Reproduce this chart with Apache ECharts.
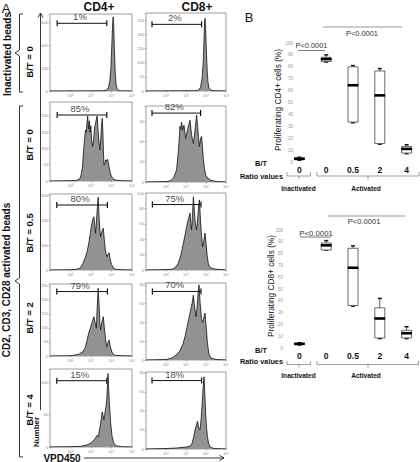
<!DOCTYPE html>
<html><head><meta charset="utf-8">
<script src="https://cdn.jsdelivr.net/npm/echarts@6/dist/echarts.min.js"></script>
<style>html,body{margin:0;padding:0;background:#fff}#c{width:420px;height:462px}</style>
</head><body><div id="c"></div>
<script>
// ---------- Panel A: VPD450 histograms (x = log10 fluorescence, y = count) ----------
const cd4Inact = [[1.0,0],[2.0,0.5],[3.0,1],[3.6,2],[3.75,6],[3.85,30],[3.92,90],[3.97,200],[4.01,380],[4.05,560],[4.08,645],[4.11,560],[4.14,360],[4.18,170],[4.22,60],[4.27,18],[4.35,4],[4.5,1],[5.0,0]];
const cd8Inact = [[1.0,0],[2.5,0.5],[3.5,1],[3.62,3],[3.72,12],[3.8,40],[3.86,100],[3.9,180],[3.93,240],[3.95,256],[3.98,220],[4.02,140],[4.06,70],[4.1,30],[4.15,10],[4.25,3],[4.4,1],[5.0,0]];
const cd4Bt0 = [[1.0,0],[2.0,1],[2.3,2],[2.45,6],[2.52,20],[2.58,40],[2.64,96],[2.69,130],[2.73,157],[2.77,150],[2.81,183],[2.84,200],[2.88,160],[2.92,185],[2.95,150],[2.99,170],[3.03,125],[3.08,106],[3.13,130],[3.18,165],[3.22,176],[3.26,190],[3.3,200],[3.34,160],[3.38,126],[3.43,96],[3.47,120],[3.51,170],[3.55,193],[3.58,150],[3.61,80],[3.64,49],[3.68,55],[3.72,65],[3.76,60],[3.8,67],[3.84,58],[3.88,44],[3.95,22],[4.05,8],[4.2,3],[4.5,1],[5.0,0]];
const cd8Bt0 = [[1.0,0],[2.0,0.5],[2.2,1],[2.37,3.6],[2.53,12],[2.62,31],[2.7,55],[2.74,52],[2.78,59],[2.83,51],[2.9,56],[2.98,43],[3.07,51],[3.13,56],[3.2,61],[3.28,46],[3.37,38],[3.45,51],[3.5,60],[3.53,66],[3.58,55],[3.62,45],[3.67,35],[3.73,43],[3.78,45],[3.87,22],[3.93,12],[4.0,6],[4.2,2],[4.5,0.5],[5.0,0]];
const cd4Bt05 = [[1.0,0],[2.0,1],[2.3,3],[2.48,8],[2.6,25],[2.72,50],[2.81,73],[2.9,110],[2.97,150],[3.03,180],[3.08,200],[3.14,213],[3.18,180],[3.22,147],[3.27,200],[3.31,250],[3.35,291],[3.39,220],[3.43,160],[3.47,133],[3.51,150],[3.56,160],[3.6,167],[3.65,120],[3.7,80],[3.77,53],[3.82,60],[3.88,69],[3.93,45],[4.0,22],[4.1,8],[4.2,3],[4.5,1],[5.0,0]];
const cd8Bt05 = [[1.0,0],[2.0,0.5],[2.3,1],[2.45,3],[2.6,8],[2.75,20],[2.87,35],[2.95,45],[3.02,55],[3.08,62],[3.14,68],[3.2,74],[3.24,60],[3.28,52],[3.33,75],[3.37,95],[3.41,80],[3.46,62],[3.53,52],[3.58,65],[3.63,82],[3.67,91],[3.71,72],[3.76,50],[3.83,30],[3.89,38],[3.95,48],[4.0,35],[4.06,18],[4.12,8],[4.2,3],[4.5,1],[5.0,0]];
const cd4Bt2 = [[1.0,0],[2.0,1],[2.15,3],[2.4,6],[2.6,15],[2.72,30],[2.81,57],[2.9,85],[2.97,100],[3.03,115],[3.09,128],[3.14,140],[3.2,120],[3.26,99],[3.3,170],[3.35,242],[3.39,190],[3.43,120],[3.47,93],[3.52,115],[3.56,130],[3.6,140],[3.65,100],[3.71,60],[3.77,33],[3.82,45],[3.88,57],[3.94,35],[4.02,14],[4.1,6],[4.2,2],[4.5,1],[5.0,0]];
const cd8Bt2 = [[1.0,0],[2.0,0.5],[2.28,2],[2.5,5],[2.7,10],[2.85,17],[2.95,25],[3.05,35],[3.15,45],[3.22,52],[3.3,60],[3.37,69],[3.42,58],[3.5,46],[3.55,55],[3.6,70],[3.65,80],[3.7,62],[3.78,43],[3.84,40],[3.9,46],[3.95,50],[4.0,38],[4.07,18],[4.15,6],[4.25,2],[4.5,0.5],[5.0,0]];
const cd4Bt4 = [[1.0,0],[2.0,0.5],[2.48,1],[2.8,3],[2.98,6],[3.1,9],[3.2,13],[3.3,18],[3.36,16],[3.42,28],[3.47,36],[3.51,46],[3.55,54],[3.59,48],[3.63,42],[3.68,52],[3.73,62],[3.77,72],[3.8,95],[3.83,113],[3.86,90],[3.9,65],[3.96,37],[4.02,18],[4.1,7],[4.2,2],[4.5,0.5],[5.0,0]];
const cd8Bt4 = [[1.0,0],[2.0,0.5],[2.5,1],[3.0,2],[3.2,3],[3.3,6],[3.38,12],[3.45,20],[3.52,25],[3.58,29],[3.62,24],[3.66,21],[3.7,20],[3.75,30],[3.8,45],[3.85,62],[3.9,76],[3.94,58],[3.98,38],[4.03,22],[4.07,13],[4.13,6],[4.2,2],[4.4,0.5],[5.0,0]];

// gates (start, end in log10 units) and gate heights (counts), percentage labels
const gateRanges = [[1.35,3.77],[1.3,3.78],[1.35,3.77],[1.3,3.73],[1.33,3.8],[1.32,3.75],[1.33,3.8],[1.32,3.75],[1.33,3.77],[1.3,3.78]];
const gateHeights = [589,235,203,68,260,85,230,73,102,72];
const pctLabels = ['1%','2%','85%','82%','80%','75%','79%','70%','15%','18%'];
const histMax = [670,275,243,75,304,100,257,82,120,81];
const histInterval = [200,50,50,20,100,20,50,20,50,20];
const decadeLabels = ['10¹','10²','10³','10⁴','10⁵'];
const histograms = [cd4Inact,cd8Inact,cd4Bt0,cd8Bt0,cd4Bt05,cd8Bt05,cd4Bt2,cd8Bt2,cd4Bt4,cd8Bt4];

// ---------- Panel B: box plots ----------
const ratioCats = ['0','0','0.5','2','4'];
const cd4Box = [[1.5,2,2.7,3.5,4],[84,84.5,86.5,88,90],[33,33.5,64.5,80,81],[15,15.5,56,76.5,78.5],[7,7.5,11,13,14.5]];
const cd8Box = [[2.5,3,3.5,4,4.5],[83,83,87,89,91],[35.5,36,68,84.5,86.5],[8,8.5,25,34,42],[8,8.5,12.5,15,18]];
const boxTitles = ['Proliferating CD4+ cells (%)','Proliferating CD8+ cells (%)'];
const groupLabels = ['Inactivated','Activated'];
const pLabel = 'P<0.0001';

const FONT = "'Liberation Sans', Arial, Helvetica, sans-serif";
const chart = echarts.init(document.getElementById('c'), null, {renderer:'svg', width:420, height:462});

// layout of histogram panels (pixels)
const colLeft = [50,146], colWidth = [82,80];
const rowBoxes = [[[14,77],[13,78]],[[102,79],[106,76]],[[194,76],[193,77]],[[284,72],[283,77]],[[369,78],[372,77]]];

const grids = [], xAxes = [], yAxes = [], series = [];
histograms.forEach((d,i)=>{
  const r = Math.floor(i/2), c = i%2;
  const [top,h] = rowBoxes[r][c];
  grids.push({left:colLeft[c], top:top, width:colWidth[c], height:h, show:true, borderColor:'#777', borderWidth:0.7, containLabel:false});
  xAxes.push({gridIndex:i, type:'value', min:1, max:5, interval:1,
    axisLine:{show:false}, splitLine:{show:false},
    axisTick:{show:true, length:1.5, lineStyle:{color:'#777', width:0.5}},
    axisLabel:{fontSize:4, color:'#888', margin:2, fontFamily:FONT, formatter:v=> v>=2 ? decadeLabels[v-1] : ''}});
  const iv = histInterval[i];
  yAxes.push({gridIndex:i, type:'value', min:0, max:histMax[i], interval:iv,
    axisLine:{show:false}, splitLine:{show:false},
    axisTick:{show:true, length:1.5, lineStyle:{color:'#777', width:0.5}},
    axisLabel:{fontSize:4, color:'#888', margin:2, fontFamily:FONT, formatter:v=> (v%iv===0) ? String(v) : ''}});
  series.push({type:'line', xAxisIndex:i, yAxisIndex:i, data:d, symbol:'none', silent:true,
    lineStyle:{color:'#111', width:0.8}, areaStyle:{color:'#929292', opacity:1}, z:2});
  const g = gateRanges[i], gy = gateHeights[i];
  series.push({type:'line', xAxisIndex:i, yAxisIndex:i, data:[[g[0],gy],[g[1],gy]], symbol:'rect', symbolSize:[1.2,6], silent:true,
    itemStyle:{color:'#111'}, lineStyle:{color:'#111', width:1}, z:3});
  series.push({type:'scatter', xAxisIndex:i, yAxisIndex:i, data:[[(g[0]+g[1])/2, gy]], symbolSize:0, silent:true,
    label:{show:true, position:'top', distance:1.5, offset:[-2,0], formatter:pctLabels[i], fontSize:9.5, color:'#111', fontFamily:FONT}, z:4});
});

// box plot grids
const boxGrids = [{top:43, height:119},{top:230, height:118}];
const boxLabelMargin = [-7, 3];
[cd4Box, cd8Box].forEach((bd,k)=>{
  const gi = grids.length;
  grids.push({left:286, width:134, top:boxGrids[k].top, height:boxGrids[k].height, show:false});
  xAxes.push({gridIndex:gi, type:'category', data:ratioCats, axisLine:{show:false}, axisTick:{show:false}, splitLine:{show:false},
    axisLabel:{fontSize:8.5, fontWeight:'bold', color:'#111', margin:3, fontFamily:FONT}});
  yAxes.push({gridIndex:gi, type:'value', min:0, max:100, interval:10, axisLine:{show:false}, axisTick:{show:false}, splitLine:{show:false},
    axisLabel:{fontSize:4.5, color:'#999', margin:boxLabelMargin[k], fontFamily:FONT}});
  series.push({type:'custom', xAxisIndex:gi, yAxisIndex:gi, silent:true,
    data: bd.map((b,j)=>[j].concat(b)),
    encode:{x:0, y:[1,2,3,4,5]},
    renderItem:(params, api)=>{
      const x = api.value(0);
      const lo = api.coord([x, api.value(1)]), q1 = api.coord([x, api.value(2)]), md = api.coord([x, api.value(3)]),
            q3 = api.coord([x, api.value(4)]), hi = api.coord([x, api.value(5)]);
      const cx = lo[0], w = 10;
      const st = {stroke:'#333', lineWidth:0.8};
      return {type:'group', children:[
        {type:'line', shape:{x1:cx,y1:hi[1],x2:cx,y2:q3[1]}, style:st},
        {type:'line', shape:{x1:cx,y1:q1[1],x2:cx,y2:lo[1]}, style:st},
        {type:'line', shape:{x1:cx-2,y1:hi[1],x2:cx+2,y2:hi[1]}, style:{stroke:'#111', lineWidth:1.5}},
        {type:'line', shape:{x1:cx-2,y1:lo[1],x2:cx+2,y2:lo[1]}, style:{stroke:'#111', lineWidth:1.5}},
        {type:'rect', shape:{x:cx-w/2, y:q3[1], width:w, height:Math.max(q1[1]-q3[1],0.5)}, style:{fill:'#fff', stroke:'#444', lineWidth:0.8}},
        {type:'line', shape:{x1:cx-w/2-0.3,y1:md[1],x2:cx+w/2+0.3,y2:md[1]}, style:{stroke:'#000', lineWidth:2.6}}
      ]};
    }});
});

// decorative text and lines
const T = (text,x,y,size,opts={}) => Object.assign({type:'text', x, y, silent:true,
  style:{text, fontSize:size, fontFamily:FONT, fontWeight:opts.bold?'bold':'normal', fill:opts.fill||'#111',
         align:opts.align||'center', verticalAlign:'middle'}}, opts.rot?{rotation:Math.PI/2}:{});
const P = (points, opts={}) => ({type:'polyline', silent:true, shape:{points}, style:{stroke:opts.stroke||'#222', lineWidth:opts.w||0.9, fill:null}});

const graphic = [
  T('A',6,8,13), T('B',249,17,13),
  T('CD4+',99,7,12,{bold:true}), T('CD8+',197,7,12,{bold:true}),
  T('Inactivated beads',7.5,54,10,{bold:true,rot:true}),
  T('CD2, CD3, CD28 activated beads',6,280,10,{bold:true,rot:true}),
  T('B/T = 0',29,62,9.5,{bold:true,rot:true}),
  T('B/T = 0',29,145,9.5,{bold:true,rot:true}),
  T('B/T = 0.5',29,233,9.5,{bold:true,rot:true}),
  T('B/T = 2',29,318,9.5,{bold:true,rot:true}),
  T('B/T = 4',29,410,9.5,{bold:true,rot:true}),
  T('Number',36,432,8,{bold:true,rot:true}),
  T('VPD450',62,458,10,{bold:true}),
  P([[23,14],[19.5,14],[19.5,50],[15,53],[19.5,56],[19.5,92],[23,92]]),
  P([[23,106],[19.5,106],[19.5,278],[15,281],[19.5,284],[19.5,457],[23,457]]),
  P([[40.5,13],[40.5,410]]), P([[38,17.5],[40.5,13],[43,17.5]]),
  P([[84,458],[224,458]]), P([[219.5,455.5],[224,458],[219.5,460.5]]),
  // panel B y-axis titles
  T(boxTitles[0],277.5,100,8.3,{rot:true}), T(boxTitles[1],270.5,286,8.3,{rot:true}),
  // panel B upper annotations
  P([[323,27],[402,27]],{stroke:'#999',w:1}), T(pLabel,362,33.5,7.4,{fill:'#333'}),
  T(pLabel,311.5,45,7.4,{fill:'#333'}), P([[298,50.5],[325,50.5]],{stroke:'#555',w:0.8}),
  T('B/T',255,163,7.5,{bold:true,align:'left'}), T('Ratio values',240,176,7.3,{bold:true,align:'left'}),
  P([[287,172],[287,176],[310.5,176],[310.5,172]],{stroke:'#777',w:0.7}), P([[299,176],[299,179]],{stroke:'#777',w:0.7}),
  P([[317,172],[317,176],[419,176],[419,172]],{stroke:'#777',w:0.7}), P([[368,176],[368,179]],{stroke:'#777',w:0.7}),
  T(groupLabels[0],298.5,188.5,6.6,{bold:true}), T(groupLabels[1],366,188.5,6.6,{bold:true}),
  // panel B lower annotations
  P([[328,216],[405,216]],{stroke:'#999',w:1}), T(pLabel,364,221.7,7.6,{fill:'#333'}),
  T(pLabel,316,233.3,7.8,{fill:'#333'}), P([[300,237],[331,237]],{stroke:'#555',w:0.8}),
  T('B/T',255,350,7.5,{bold:true,align:'left'}), T('Ratio values',240,361,7.3,{bold:true,align:'left'}),
  P([[287,361],[287,364.5],[310.5,364.5],[310.5,361]],{stroke:'#777',w:0.7}), P([[299,364.5],[299,367.5]],{stroke:'#777',w:0.7}),
  P([[317,361],[317,364.5],[418.5,364.5],[418.5,361]],{stroke:'#777',w:0.7}), P([[368,364.5],[368,367.5]],{stroke:'#777',w:0.7}),
  T(groupLabels[0],298.5,375.5,6.6,{bold:true}), T(groupLabels[1],366,375.5,6.6,{bold:true})
];

chart.setOption({animation:false, backgroundColor:'#fff', textStyle:{fontFamily:FONT},
  grid:grids, xAxis:xAxes, yAxis:yAxes, series, graphic});
</script></body></html>
